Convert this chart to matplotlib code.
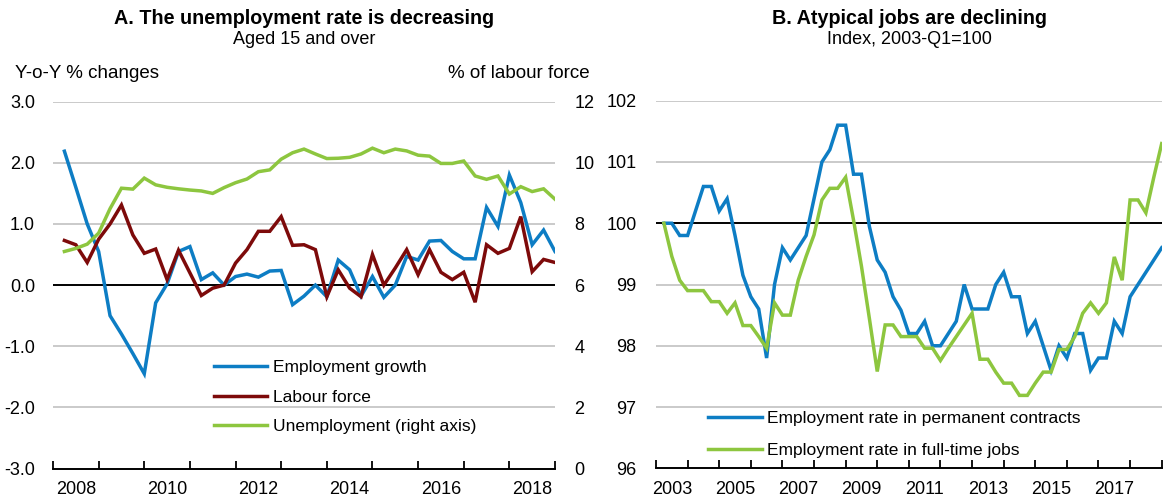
import numpy as np
import matplotlib
matplotlib.use('Agg')
import matplotlib.pyplot as plt
from matplotlib.ticker import FixedLocator, FixedFormatter, NullFormatter

plt.rcParams['font.family'] = ['Liberation Sans', 'DejaVu Sans']

# ---------------- Data ----------------
# Panel A: quarterly, 2008-Q1 .. 2018-Q4
a_start_year = 2008
emp_growth = [2.19, 1.6, 1.0, 0.55, -0.5, -0.8, -1.12, -1.45, -0.29, 0.02, 0.55,
              0.63, 0.09, 0.2, 0.0, 0.14, 0.18, 0.13, 0.23, 0.24, -0.32, -0.18,
              0.0, -0.19, 0.41, 0.25, -0.18, 0.14, -0.2, 0.0, 0.47, 0.41, 0.72,
              0.73, 0.55, 0.43, 0.43, 1.27, 0.96, 1.80, 1.35, 0.66, 0.90, 0.55]
labour_force = [0.73, 0.66, 0.37, 0.75, 1.0, 1.31, 0.82, 0.52, 0.59, 0.09, 0.57,
                0.2, -0.17, -0.05, 0.0, 0.36, 0.58, 0.88, 0.88, 1.12, 0.65, 0.66,
                0.58, -0.19, 0.25, -0.05, -0.19, 0.5, 0.0, 0.28, 0.58, 0.17, 0.58,
                0.21, 0.09, 0.21, -0.28, 0.66, 0.52, 0.6, 1.12, 0.22, 0.42, 0.37]
unemployment = [7.1, 7.2, 7.34, 7.7, 8.5, 9.17, 9.14, 9.5, 9.28, 9.2, 9.15,
                9.11, 9.08, 9.0, 9.19, 9.35, 9.47, 9.71, 9.77, 10.12, 10.33, 10.45,
                10.29, 10.14, 10.15, 10.18, 10.29, 10.48, 10.33, 10.45, 10.39, 10.25, 10.22,
                9.98, 9.98, 10.06, 9.57, 9.46, 9.57, 8.98, 9.22, 9.06, 9.15, 8.81]

# Panel B: quarterly, 2003-Q1 .. 2018-Q4
b_start_year = 2003
permanent = [100.0, 100.0, 99.8, 99.8, 100.2, 100.6, 100.6, 100.2, 100.4, 99.8,
             99.15, 98.8, 98.6, 97.8, 99.0, 99.6, 99.4, 99.6, 99.8, 100.4,
             101.0, 101.2, 101.6, 101.6, 100.8, 100.8, 99.95, 99.4, 99.2, 98.8,
             98.58, 98.2, 98.2, 98.4, 98.0, 98.0, 98.2, 98.4, 99.0, 98.6,
             98.6, 98.6, 99.0, 99.2, 98.8, 98.8, 98.2, 98.4, 98.0, 97.6,
             98.0, 97.8, 98.2, 98.2, 97.6, 97.8, 97.8, 98.4, 98.2, 98.8,
             99.0, 99.2, 99.4, 99.6]
fulltime = [100.0, 99.46, 99.07, 98.9, 98.9, 98.9, 98.72, 98.72, 98.53, 98.7,
            98.33, 98.33, 98.15, 97.96, 98.7, 98.5, 98.5, 99.07, 99.46, 99.81,
            100.38, 100.57, 100.57, 100.75, 100.05, 99.3, 98.45, 97.58, 98.34, 98.34,
            98.15, 98.15, 98.15, 97.96, 97.96, 97.76, 97.96, 98.15, 98.34, 98.53,
            97.78, 97.78, 97.57, 97.39, 97.39, 97.19, 97.19, 97.39, 97.57, 97.57,
            97.94, 97.94, 98.15, 98.53, 98.7, 98.53, 98.7, 99.45, 99.07, 100.38,
            100.38, 100.17, 100.75, 101.3]

a_left_ticks = [-3, -2, -1, 0, 1, 2, 3]
a_left_labels = ['-3.0', '-2.0', '-1.0', '0.0', '1.0', '2.0', '3.0']
a_right_ticks = [0, 2, 4, 6, 8, 10, 12]
b_ticks = [96, 97, 98, 99, 100, 101, 102]

BLUE = '#0d7dc4'
RED = '#7d0a0a'
GREEN = '#8dc63f'
GRID = '#c6c6c6'
LW = 2.5
W, H = 1165, 497

fig = plt.figure(figsize=(W / 100, H / 100), dpi=100)


def px_axes(l, r, t, b):
    return [l / W, (H - b) / H, (r - l) / W, (b - t) / H]


def style_x(ax, y0, y1, label_years):
    ax.set_xlim(y0, y1)
    ax.xaxis.set_major_locator(FixedLocator(list(range(y0, y1 + 1))))
    ax.xaxis.set_major_formatter(NullFormatter())
    ax.xaxis.set_minor_locator(FixedLocator([y + 0.5 for y in label_years]))
    ax.xaxis.set_minor_formatter(FixedFormatter([str(y) for y in label_years]))
    ax.tick_params(axis='x', which='major', direction='in', length=6, width=1.3,
                   color='black')
    ax.tick_params(axis='x', which='minor', length=0, pad=9, labelsize=13)
    for s in ['top', 'left', 'right']:
        ax.spines[s].set_visible(False)
    ax.spines['bottom'].set_color('black')
    ax.spines['bottom'].set_linewidth(1.4)


# ---------------- Panel A ----------------
axA = fig.add_axes(px_axes(53, 555, 101.7, 468.5))
axA2 = axA.twinx()
tA = a_start_year + 0.25 * (np.arange(len(emp_growth)) + 1)

axA.set_ylim(-3, 3)
axA.yaxis.set_major_locator(FixedLocator(a_left_ticks))
axA.yaxis.set_major_formatter(FixedFormatter(a_left_labels))
axA.tick_params(axis='y', length=0, pad=13, labelsize=13)
for v in a_left_ticks:
    if v not in (0, -3):
        axA.axhline(v, color=GRID, lw=1.3, zorder=0)
axA.axhline(0, color='black', lw=1.4, zorder=1)
style_x(axA, 2008, 2019, [2008, 2010, 2012, 2014, 2016, 2018])

l1, = axA.plot(tA, emp_growth, color=BLUE, lw=LW, zorder=3,
               solid_joinstyle='miter', label='Employment growth')
l2, = axA.plot(tA, labour_force, color=RED, lw=LW, zorder=4,
               solid_joinstyle='miter', label='Labour force')

axA2.set_ylim(0, 12)
axA2.yaxis.set_major_locator(FixedLocator(a_right_ticks))
axA2.tick_params(axis='y', length=0, pad=14, labelsize=13)
for s in axA2.spines.values():
    s.set_visible(False)
l3, = axA2.plot(tA, unemployment, color=GREEN, lw=LW, zorder=3,
                solid_joinstyle='miter', label='Unemployment (right axis)')

axA2.legend(handles=[l1, l2, l3], loc='upper left', bbox_to_anchor=(0.32, 0.296),
            frameon=False, fontsize=12.5, handlelength=3.1, handletextpad=0.3,
            labelspacing=0.83, borderpad=0, borderaxespad=0)

fig.text(304 / W, 1 - 18 / H, 'A. The unemployment rate is decreasing',
         ha='center', va='center', fontsize=14.2, fontweight='bold')
fig.text(304 / W, 1 - 40 / H, 'Aged 15 and over', ha='center', va='center',
         fontsize=13)
fig.text(15 / W, 1 - 74 / H, 'Y-o-Y % changes', ha='left', va='center',
         fontsize=13.5)
fig.text(590 / W, 1 - 74 / H, '% of labour force', ha='right', va='center',
         fontsize=13.5)

# ---------------- Panel B ----------------
axB = fig.add_axes(px_axes(656, 1161.7, 100.7, 468.3))
tB = b_start_year + 0.25 * (np.arange(len(permanent)) + 1)
axB.set_ylim(96, 102)
axB.yaxis.set_major_locator(FixedLocator(b_ticks))
axB.tick_params(axis='y', length=0, pad=14, labelsize=13)
for v in b_ticks:
    if v not in (96, 100):
        axB.axhline(v, color=GRID, lw=1.3, zorder=0)
axB.axhline(100, color='black', lw=1.4, zorder=1)
style_x(axB, 2003, 2019, [2003, 2005, 2007, 2009, 2011, 2013, 2015, 2017])

m1, = axB.plot(tB, permanent, color=BLUE, lw=LW, zorder=3,
               solid_joinstyle='miter',
               label='Employment rate in permanent contracts')
m2, = axB.plot(tB, fulltime, color=GREEN, lw=LW, zorder=4,
               solid_joinstyle='miter',
               label='Employment rate in full-time jobs')
axB.legend(handles=[m1, m2], loc='upper left', bbox_to_anchor=(0.103, 0.156),
           frameon=False, fontsize=12.5, handlelength=3.1, handletextpad=0.3,
           labelspacing=0.96, borderpad=0, borderaxespad=0)

fig.text(909 / W, 1 - 18 / H, 'B. Atypical jobs are declining',
         ha='center', va='center', fontsize=14.2, fontweight='bold')
fig.text(909 / W, 1 - 40 / H, 'Index, 2003-Q1=100', ha='center', va='center',
         fontsize=13)

fig.savefig('out.png', dpi=100)
